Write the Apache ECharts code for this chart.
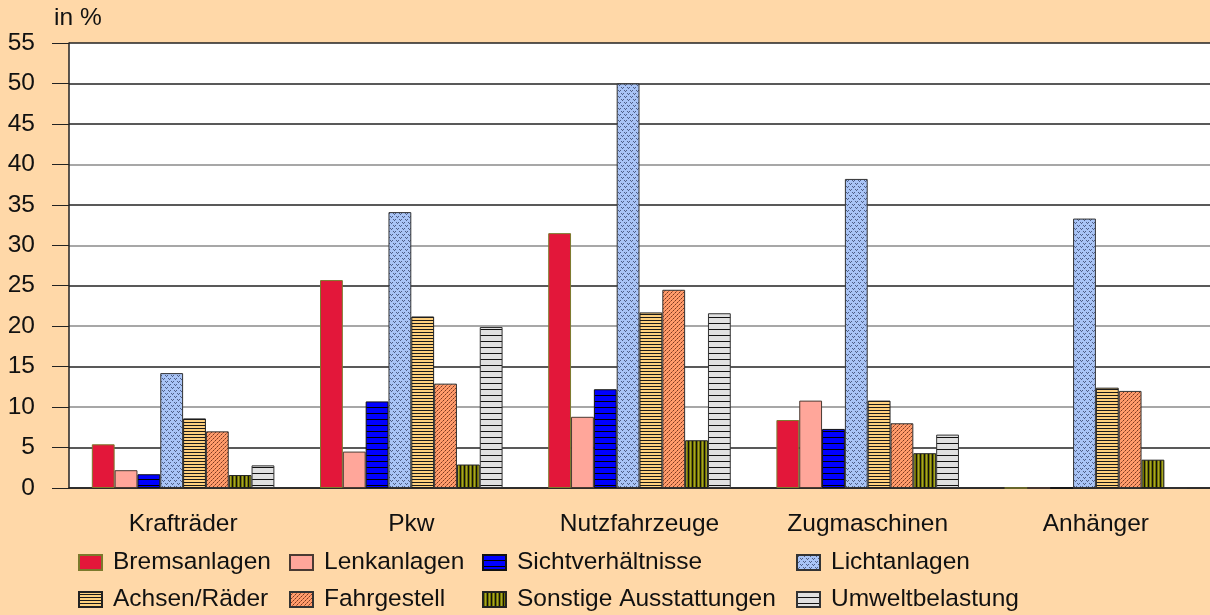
<!DOCTYPE html>
<html lang="de">

<head>
  <meta charset="UTF-8">
  <title>Mängel</title>
  <style>
    html, body { margin: 0; padding: 0; background: #FFD8A8; }
    #main { width: 1210px; height: 615px; }
  </style>
</head>

<body>
  <div id="main"></div>

  <script src="https://cdn.jsdelivr.net/npm/echarts@6/dist/echarts.min.js"></script>
  <script>

  // Daten
  const categories = ['Krafträder', 'Pkw', 'Nutzfahrzeuge', 'Zugmaschinen', 'Anhänger'];
  const seriesNames = ['Bremsanlagen', 'Lenkanlagen', 'Sichtverhältnisse', 'Lichtanlagen',
    'Achsen/Räder', 'Fahrgestell', 'Sonstige Ausstattungen', 'Umweltbelastung'];

  const bremsanlagen = [5.4, 25.7, 31.5, 8.4, 0];
  const lenkanlagen = [2.2, 4.5, 8.8, 10.8, 0];
  const sichtverhaeltnisse = [1.7, 10.7, 12.2, 7.3, 0];
  const lichtanlagen = [14.2, 34.1, 50.0, 38.2, 33.3];
  const achsenRaeder = [8.6, 21.2, 21.7, 10.8, 12.4];
  const fahrgestell = [7.0, 12.9, 24.5, 8.0, 12.0];
  const sonstige = [1.6, 2.9, 5.9, 4.3, 3.5];
  const umweltbelastung = [2.8, 19.9, 21.6, 6.6, 0];

  const yTicks = [0, 5, 10, 15, 20, 25, 30, 35, 40, 45, 50, 55];

  // Muster (Schraffuren) per canvas
  function pattern(w, h, bg, draw) {
    const c = document.createElement('canvas');
    c.width = w;
    c.height = h;
    const ctx = c.getContext('2d');
    ctx.fillStyle = bg;
    ctx.fillRect(0, 0, w, h);
    draw(ctx);
    return { image: c, repeat: 'repeat' };
  }

  const fills = [
    '#E3173A',
    '#FFA69A',
    pattern(4, 6, '#0000FF', ctx => { ctx.fillStyle = '#000'; ctx.fillRect(0, 5, 4, 1); }),
    pattern(6, 6, '#A9C4F6', ctx => {
      ctx.fillStyle = '#4E5E86';
      ctx.fillRect(0, 0, 1, 1); ctx.fillRect(1, 1, 1, 1); ctx.fillRect(2, 0, 1, 1);
      ctx.fillRect(3, 3, 1, 1); ctx.fillRect(4, 4, 1, 1); ctx.fillRect(5, 3, 1, 1);
    }),
    pattern(4, 3, '#FFD17E', ctx => { ctx.fillStyle = '#1a1a1a'; ctx.fillRect(0, 2, 4, 1); }),
    pattern(4, 4, '#FF9C6C', ctx => {
      ctx.fillStyle = '#7a3a22';
      ctx.fillRect(3, 0, 1, 1); ctx.fillRect(1, 2, 1, 1);
      ctx.fillStyle = '#c0603a';
      ctx.fillRect(2, 1, 1, 1); ctx.fillRect(0, 3, 1, 1);
    }),
    pattern(4, 2, '#707000', ctx => {
      ctx.fillStyle = '#111'; ctx.fillRect(0, 0, 1, 2);
      ctx.fillStyle = '#A6A626'; ctx.fillRect(2, 0, 1, 2);
    }),
    pattern(4, 6, '#E0E0E0', ctx => { ctx.fillStyle = '#111'; ctx.fillRect(0, 5, 4, 1); })
  ];
  const borders = ['#7B7A2C', '#4a3a32', '#111', '#333', '#222', '#333', '#222', '#333'];
  const values = [bremsanlagen, lenkanlagen, sichtverhaeltnisse, lichtanlagen,
    achsenRaeder, fahrgestell, sonstige, umweltbelastung];

  const font = "'Liberation Sans', Arial, sans-serif";
  const fs = 24.5;

  // Gitterlinien: 10er grau, sonst dunkel
  const gridColors = yTicks.map(v => (v % 10 === 0 && v !== 50 && v !== 0) ? '#8a8a8a' : '#222');

  const series = seriesNames.map((name, i) => ({
    name: name,
    type: 'bar',
    data: values[i],
    barGap: '0%',
    barCategoryGap: '20%',
    itemStyle: { color: fills[i], borderColor: borders[i], borderWidth: 1 }
  }));

  function legend(names, left) {
    return {
      data: names,
      orient: 'vertical',
      left: left,
      top: 550,
      padding: 0,
      itemGap: 12,
      itemWidth: 23,
      itemHeight: 15,
      icon: 'rect',
      selectedMode: false,
      textStyle: { fontFamily: font, fontSize: fs, color: '#111', padding: [0, 0, 0, 6] }
    };
  }

  let myChart = echarts.init(document.getElementById('main'));
  let option = {
    backgroundColor: '#FFD8A8',
    animation: false,
    title: {
      text: 'in %',
      left: 54,
      top: 6,
      padding: 0,
      textStyle: { fontFamily: font, fontSize: fs, fontWeight: 'normal', color: '#111' }
    },
    grid: {
      left: 69,
      top: 43,
      width: 1149,
      bottom: 127,
      show: true,
      backgroundColor: '#fff',
      borderWidth: 0
    },
    legend: [
      legend([seriesNames[0], seriesNames[4]], 78),
      legend([seriesNames[1], seriesNames[5]], 289),
      legend([seriesNames[2], seriesNames[6]], 482),
      legend([seriesNames[3], seriesNames[7]], 796)
    ],
    xAxis: {
      type: 'category',
      data: categories,
      axisLine: { lineStyle: { color: '#222', width: 1.5 } },
      axisTick: { alignWithLabel: true, length: 12, lineStyle: { color: '#333' } },
      axisLabel: { fontFamily: font, fontSize: fs, color: '#111', margin: 24 }
    },
    yAxis: {
      type: 'value',
      min: 0,
      max: 55,
      interval: 5,
      axisLine: { show: true, lineStyle: { color: '#222', width: 1.5 } },
      axisTick: { show: true, length: 17, lineStyle: { color: '#222' } },
      axisLabel: { fontFamily: font, fontSize: fs, color: '#111', margin: 34 },
      splitLine: { lineStyle: { color: gridColors, width: 1.5 } }
    },
    series: series
  };

  myChart.setOption(option);
  </script>
</body>

</html>
